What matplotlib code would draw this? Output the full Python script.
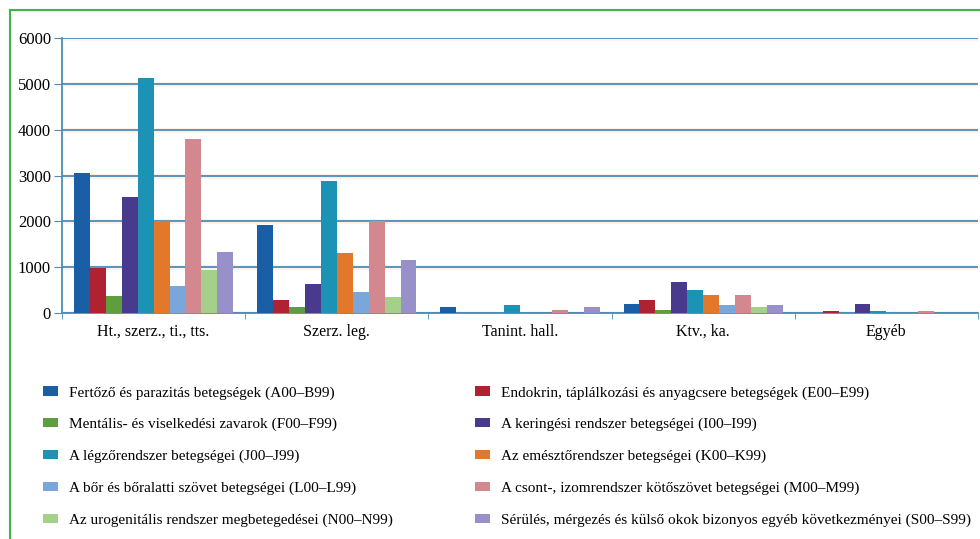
import matplotlib
matplotlib.use("Agg")
import matplotlib.pyplot as plt
import matplotlib.patheffects as pe
from matplotlib.patches import Rectangle
import numpy as np

groups = ["Ht., szerz., ti., tts.", "Szerz. leg.", "Tanint. hall.", "Ktv., ka.", "Egyéb"]

series_names = [
    "Fertőző és parazitás betegségek (A00–B99)",
    "Endokrin, táplálkozási és anyagcsere betegségek (E00–E99)",
    "Mentális- és viselkedési zavarok (F00–F99)",
    "A keringési rendszer betegségei (I00–I99)",
    "A légzőrendszer betegségei (J00–J99)",
    "Az emésztőrendszer betegségei (K00–K99)",
    "A bőr és bőralatti szövet betegségei (L00–L99)",
    "A csont-, izomrendszer kötőszövet betegségei (M00–M99)",
    "Az urogenitális rendszer megbetegedései (N00–N99)",
    "Sérülés, mérgezés és külső okok bizonyos egyéb következményei (S00–S99)",
]

# values per series, one entry per group
fertozo = [3050, 1920, 130, 200, 0]
endokrin = [980, 275, 0, 280, 50]
mentalis = [380, 130, 0, 55, 0]
keringesi = [2530, 640, 0, 680, 190]
legzo = [5120, 2880, 180, 495, 50]
emeszto = [2000, 1300, 0, 400, 0]
bor = [600, 450, 0, 165, 0]
csont = [3800, 2010, 55, 385, 45]
urogenitalis = [940, 350, 0, 125, 0]
serules = [1330, 1150, 130, 165, 0]

values = [fertozo, endokrin, mentalis, keringesi, legzo,
          emeszto, bor, csont, urogenitalis, serules]

colors = ["#1a5ea6", "#ae2232", "#5f9e3c", "#4a3a8e", "#1c93b4",
          "#e4782a", "#79a7dc", "#d3878f", "#a5d08a", "#9890c9"]

plt.rcParams["font.family"] = ["Liberation Serif", "DejaVu Serif"]

fig = plt.figure(figsize=(9.8, 5.39), dpi=100)
ax = fig.add_axes([62 / 980, (539 - 313) / 539, (978 - 62) / 980, (313 - 38) / 539])

x = np.arange(len(groups))
w = 0.087
bars = []
for i in range(len(values)):
    b = ax.bar(x + (i - 4.5) * w, values[i], w, color=colors[i], label=series_names[i], zorder=3)
    bars.append(b)

ax.set_xlim(-0.5, len(groups) - 0.5)
ax.set_ylim(0, 6000)
ax.set_yticks(range(0, 6001, 1000))
ax.yaxis.grid(True, color="#4a8db6", linewidth=1.3, zorder=1,
              path_effects=[pe.Stroke(linewidth=3.5, foreground="#fdf0ec"), pe.Normal()])
ax.set_axisbelow(True)

ax.set_xticks(x)
ax.set_xticklabels(groups, fontsize=11.5)
ax.set_xticks(np.arange(-0.5, len(groups)), minor=True)
ax.tick_params(axis="x", which="major", length=0, pad=8)
ax.tick_params(axis="x", which="minor", length=4, color="#4a8db6", direction="out")
ax.tick_params(axis="y", length=6, color="#4a8db6", labelsize=12, pad=2)

for s in ["top", "right"]:
    ax.spines[s].set_visible(False)
ax.spines["left"].set_color("#4a8db6")
ax.spines["bottom"].set_color("#4a8db6")
ax.spines["left"].set_linewidth(1.3)
ax.spines["bottom"].set_linewidth(1.3)

# legend: left column even series, right column odd series
left = [bars[i] for i in range(0, 10, 2)]
right = [bars[i] for i in range(1, 10, 2)]
leg_kw = dict(frameon=False, fontsize=11, handlelength=1.0, handleheight=0.55,
              handletextpad=0.7, labelspacing=1.2, borderaxespad=0)
leg1 = fig.legend(left, [series_names[i] for i in range(0, 10, 2)],
                  loc="upper left", bbox_to_anchor=(37 / 980, 1 - 380 / 539), **leg_kw)
leg2 = fig.legend(right, [series_names[i] for i in range(1, 10, 2)],
                  loc="upper left", bbox_to_anchor=(469 / 980, 1 - 380 / 539), **leg_kw)

# green frame around the figure
fig.add_artist(Rectangle((10 / 980, -0.05), 1.2, 1 - 10 / 539 + 0.05,
                         transform=fig.transFigure, fill=False,
                         edgecolor="#3db54a", linewidth=1.5))

fig.savefig("out.png", dpi=100)
